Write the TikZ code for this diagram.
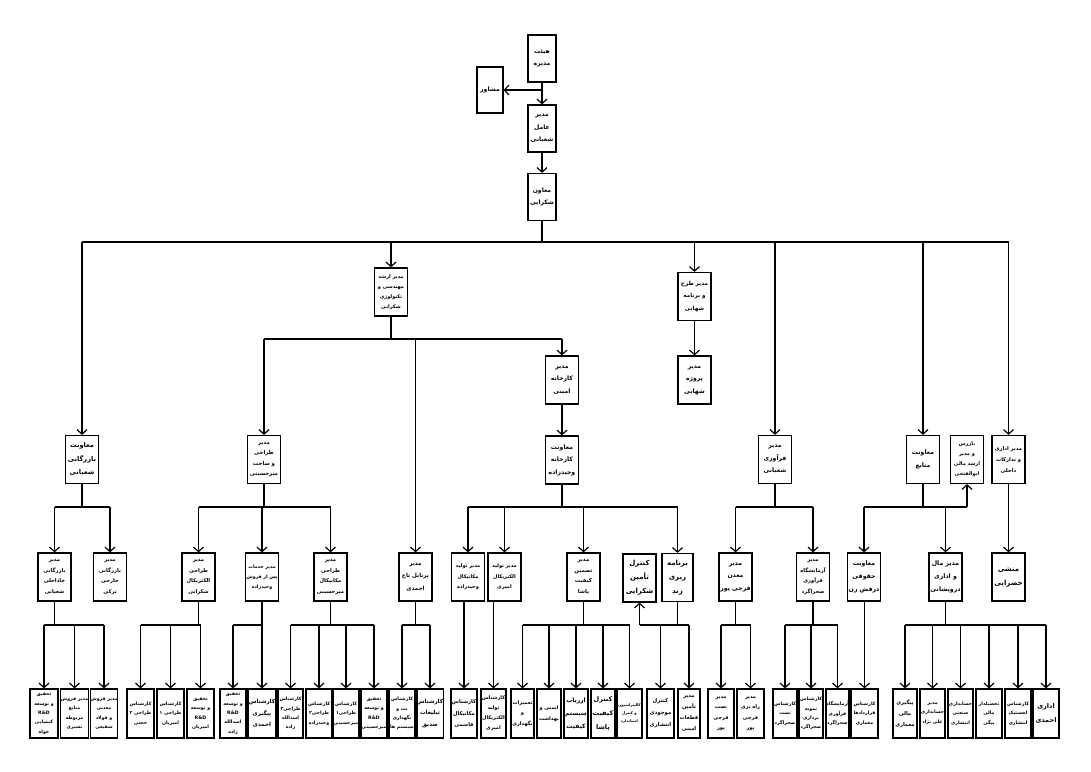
\documentclass[tikz,border=0pt]{standalone}
\usepackage{fontspec}
\newfontfamily\fafont[Script=Arabic]{DejaVu Sans}
\TeXXeTstate=1
\usetikzlibrary{arrows.meta, positioning}
\newcommand{\fa}[1]{\beginR#1\endR}

\begin{document}
\begin{tikzpicture}[
    x=1pt, y=-1pt,
    font=\fafont\bfseries\fontsize{6.1}{12.5}\selectfont,
    unitbox/.style={draw, line width=1.2pt, align=center, inner sep=0pt, minimum width=33, minimum height=48},
    staffbox/.style={draw, line width=1.2pt, align=center, inner sep=0pt, minimum width=26, minimum height=49, font=\fafont\bfseries\fontsize{4.7}{9.4}\selectfont},
    bigtext/.style={font=\fafont\bfseries\fontsize{7}{14}\selectfont},
    link/.style={line width=1.2pt},
    arrow/.style={-{Straight Barb[length=4.5pt, width=10pt]}, line width=1.2pt}
]
\useasboundingbox (0,0) rectangle (1091,771);

% === BOARD AND MANAGEMENT ===
\node[unitbox, minimum width=28, minimum height=47] (board) at (542, 58.5) {\fa{هیئت}\\\fa{مدیره}};
\node[unitbox, minimum width=26, minimum height=46] (advisor) at (490, 90) {\fa{مشاور}};
\node[unitbox, minimum width=28, minimum height=47] (ceo) at (542, 128.5) {\fa{مدیر}\\\fa{عامل}\\\fa{شعبانی}};
\node[unitbox, minimum width=28, minimum height=47] (deputy) at (542, 197) {\fa{معاون}\\\fa{شکرایی}};

% === SECOND LEVEL ===
\node[unitbox, font=\fafont\bfseries\fontsize{5}{10}\selectfont] (eng) at (391, 292) {\fa{مدیر ارشد}\\\fa{مهندسی و}\\\fa{تکنولوژی}\\\fa{شکرایی}};
\node[unitbox, font=\fafont\bfseries\fontsize{5.6}{12.5}\selectfont] (plan) at (694.5, 296.5) {\fa{مدیر طرح}\\\fa{و برنامه}\\\fa{شهابی}};
\node[unitbox] (factory) at (562, 380) {\fa{مدیر}\\\fa{کارخانه}\\\fa{امینی}};
\node[unitbox] (project) at (694.5, 380) {\fa{مدیر}\\\fa{پروژه}\\\fa{شهابی}};

% === DEPARTMENTS ===
\node[unitbox, font=\fafont\bfseries\fontsize{6.6}{13.5}\selectfont] (comm) at (82, 459.5) {\fa{معاونت}\\\fa{بازرگانی}\\\fa{شعبانی}};
\node[unitbox, font=\fafont\bfseries\fontsize{5.4}{10.5}\selectfont] (design) at (264, 459.5) {\fa{مدیر}\\\fa{طراحی}\\\fa{و ساخت}\\\fa{میرحسینی}};
\node[unitbox] (factdep) at (562, 460) {\fa{معاونت}\\\fa{کارخانه}\\\fa{وحیدزاده}};
\node[unitbox] (process) at (775, 459.5) {\fa{مدیر}\\\fa{فرآوری}\\\fa{شعبانی}};
\node[unitbox] (resources) at (923, 459.5) {\fa{معاونت}\\\fa{منابع}};
\node[unitbox, font=\fafont\bfseries\fontsize{5}{10}\selectfont] (inspector) at (967, 459.5) {\fa{بازرس}\\\fa{و مدیر}\\\fa{ارشد مالی}\\\fa{ابوالفتحی}};
\node[unitbox, font=\fafont\bfseries\fontsize{5.2}{11}\selectfont] (admin) at (1008.5, 459.5) {\fa{مدیر اداری}\\\fa{و تدارکات}\\\fa{داخلی}};

% === MANAGERS ===
\node[unitbox, font=\fafont\bfseries\fontsize{5.2}{10.5}\selectfont] (domestic) at (54.5, 577) {\fa{مدیر}\\\fa{بازرگانی}\\\fa{خاداخلی}\\\fa{شعبانی}};
\node[unitbox, font=\fafont\bfseries\fontsize{5.2}{10.5}\selectfont] (foreign) at (110, 577) {\fa{مدیر}\\\fa{بازرگانی}\\\fa{خارجی}\\\fa{ترکی}};
\node[unitbox, font=\fafont\bfseries\fontsize{5.2}{10.5}\selectfont] (eldesign) at (198.5, 577) {\fa{مدیر}\\\fa{طراحی}\\\fa{الکتریکال}\\\fa{شکرایی}};
\node[unitbox, font=\fafont\bfseries\fontsize{4.7}{10}\selectfont] (service) at (262, 577) {\fa{مدیر خدمات}\\\fa{پس از فروش}\\\fa{وحیدزاده}};
\node[unitbox, font=\fafont\bfseries\fontsize{5.2}{10.5}\selectfont] (mechdesign) at (330.5, 577) {\fa{مدیر}\\\fa{طراحی}\\\fa{مکانیکال}\\\fa{میرحسینی}};
\node[unitbox, font=\fafont\bfseries\fontsize{5.6}{12.5}\selectfont] (portable) at (415.5, 577) {\fa{مدیر}\\\fa{پرتابل تاج}\\\fa{احمدی}};
\node[unitbox, font=\fafont\bfseries\fontsize{5}{10.5}\selectfont] (mechprod) at (468, 577) {\fa{مدیر تولید}\\\fa{مکانیکال}\\\fa{وحیدزاده}};
\node[unitbox, font=\fafont\bfseries\fontsize{5}{10.5}\selectfont] (elprod) at (504.5, 577) {\fa{مدیر تولید}\\\fa{الکتریکال}\\\fa{امیری}};
\node[unitbox, font=\fafont\bfseries\fontsize{5.4}{10.5}\selectfont] (qa) at (583.5, 577) {\fa{مدیر}\\\fa{تضمین}\\\fa{کیفیت}\\\fa{پاشا}};
\node[unitbox, bigtext] (supply) at (639.5, 578) {\fa{کنترل}\\\fa{تأمین}\\\fa{شکرایی}};
\node[unitbox, bigtext, minimum width=31] (planning) at (677.5, 577.5) {\fa{برنامه}\\\fa{ریزی}\\\fa{زند}};
\node[unitbox] (mine) at (735.5, 577) {\fa{مدیر}\\\fa{معدن}\\\fa{فرجی پور}};
\node[unitbox, font=\fafont\bfseries\fontsize{5.2}{10.5}\selectfont] (lab) at (813, 577) {\fa{مدیر}\\\fa{آزمایشگاه}\\\fa{فرآوری}\\\fa{صحراگرد}};
\node[unitbox, font=\fafont\bfseries\fontsize{6.2}{13}\selectfont] (legal) at (864, 577) {\fa{معاونت}\\\fa{حقوقی}\\\fa{درفش زن}};
\node[unitbox, font=\fafont\bfseries\fontsize{6.2}{13}\selectfont] (finance) at (945.5, 577) {\fa{مدیر مال}\\\fa{و اداری}\\\fa{درویشانی}};
\node[unitbox, bigtext] (secretary) at (1008.5, 577) {\fa{منشی}\\\fa{خضرایی}};

% === STAFF ===
\node[staffbox, minimum width=28] (rd1) at (44, 713.5) {\fa{تحقیق}\\\fa{و توسعه}\\R\&D\\\fa{کیمیایی}\\\fa{خواه}};
\node[staffbox, minimum width=27] (sales1) at (74.5, 713.5) {\fa{مدیر فروش}\\\fa{منابع}\\\fa{مربوطه}\\\fa{بشیری}};
\node[staffbox] (sales2) at (104, 713.5) {\fa{مدیر فروش}\\\fa{معدنی}\\\fa{و فولاد}\\\fa{شفیعی}};
\node[staffbox, minimum width=27] (ds2) at (140.5, 713.5) {\fa{کارشناس}\\\fa{طراحی ۲}\\\fa{حجتی}};
\node[staffbox, minimum width=27] (ds1) at (170.5, 713.5) {\fa{کارشناس}\\\fa{طراحی ۱}\\\fa{امیریان}};
\node[staffbox, minimum width=27] (rd2) at (200.5, 713.5) {\fa{تحقیق}\\\fa{و توسعه}\\R\&D\\\fa{امیریان}};
\node[staffbox] (rd3) at (233, 713.5) {\fa{تحقیق}\\\fa{و توسعه}\\R\&D\\\fa{اسدالله}\\\fa{زاده}};
\node[staffbox, minimum width=28, font=\fafont\bfseries\fontsize{5.6}{11.5}\selectfont] (follow) at (262, 713.5) {\fa{کارشناس}\\\fa{پیگیری}\\\fa{احمدی}};
\node[staffbox, minimum width=25] (md3) at (290.5, 713.5) {\fa{کارشناس}\\\fa{طراحی۳}\\\fa{اسدالله}\\\fa{زاده}};
\node[staffbox] (md2) at (319, 713.5) {\fa{کارشناس}\\\fa{طراحی۲}\\\fa{وحیدزاده}};
\node[staffbox] (md1) at (346, 713.5) {\fa{کارشناس}\\\fa{طراحی۱}\\\fa{میرحسینی}};
\node[staffbox] (rd4) at (374, 713.5) {\fa{تحقیق}\\\fa{و توسعه}\\R\&D\\\fa{میرحسینی}};
\node[staffbox] (maint) at (402, 713.5) {\fa{کارشناس}\\\fa{نت و}\\\fa{نگهداری}\\\fa{سیستم ها}};
\node[staffbox, font=\fafont\bfseries\fontsize{5.6}{11.5}\selectfont] (adv) at (430, 713.5) {\fa{کارشناس}\\\fa{تبلیغات}\\\fa{صدیق}};
\node[staffbox, font=\fafont\bfseries\fontsize{5.2}{11.5}\selectfont] (mech) at (464, 713.5) {\fa{کارشناس}\\\fa{مکانیکال}\\\fa{قاسمی}};
\node[staffbox, minimum width=25, font=\fafont\bfseries\fontsize{5}{10}\selectfont] (elec) at (493.5, 713.5) {\fa{کارشناس}\\\fa{تولید}\\\fa{الکتریکال}\\\fa{امیری}};
\node[staffbox, minimum width=23, font=\fafont\bfseries\fontsize{5}{10.5}\selectfont] (repair) at (522.5, 713.5) {\fa{تعمیرات}\\\fa{و}\\\fa{نگهداری}};
\node[staffbox, minimum width=24, font=\fafont\bfseries\fontsize{5}{11}\selectfont] (safety) at (549, 713.5) {\fa{ایمنی و}\\\fa{بهداشت}};
\node[staffbox, minimum width=24, font=\fafont\bfseries\fontsize{6}{13}\selectfont] (audit) at (576, 713.5) {\fa{ارزیاب}\\\fa{سیستم}\\\fa{کیفیت}};
\node[staffbox, minimum width=24, font=\fafont\bfseries\fontsize{6.5}{14}\selectfont] (qc) at (603, 713.5) {\fa{کنترل}\\\fa{کیفیت}\\\fa{پاشا}};
\node[staffbox, minimum width=25, font=\fafont\bfseries\fontsize{3.8}{8}\selectfont] (calib) at (629.5, 713.5) {\fa{کالیبراسیون}\\\fa{و کنترل}\\\fa{استاندارد}};
\node[staffbox, minimum width=27, font=\fafont\bfseries\fontsize{5.4}{12}\selectfont] (stock) at (660.5, 713.5) {\fa{کنترل}\\\fa{موجودی}\\\fa{انتشاری}};
\node[staffbox, minimum width=22, font=\fafont\bfseries\fontsize{5.2}{11}\selectfont] (parts) at (689, 713.5) {\fa{مدیر}\\\fa{تأمین}\\\fa{قطعات}\\\fa{امینی}};
\node[staffbox, font=\fafont\bfseries\fontsize{5}{10.5}\selectfont] (install) at (721, 713.5) {\fa{مدیر}\\\fa{نصب}\\\fa{فرجی}\\\fa{پور}};
\node[staffbox, minimum width=27, font=\fafont\bfseries\fontsize{5}{10.5}\selectfont] (operate) at (750.5, 713.5) {\fa{مدیر}\\\fa{راه بری}\\\fa{فرجی}\\\fa{پور}};
\node[staffbox, minimum width=24] (test) at (785, 713.5) {\fa{کارشناس}\\\fa{تست}\\\fa{صحراگرد}};
\node[staffbox, minimum width=24] (sample) at (811, 713.5) {\fa{کارشناس}\\\fa{نمونه}\\\fa{برداری}\\\fa{صحراگرد}};
\node[staffbox, minimum width=23] (labx) at (837.5, 713.5) {\fa{آزمایشگاه}\\\fa{فرآوری}\\\fa{صحراگرد}};
\node[staffbox, minimum width=27] (contract) at (864.5, 713.5) {\fa{کارشناس}\\\fa{قراردادها}\\\fa{معماری}};
\node[staffbox, minimum width=24, font=\fafont\bfseries\fontsize{5.2}{11}\selectfont] (fin1) at (905, 713.5) {\fa{پیگیری}\\\fa{مالی}\\\fa{معماری}};
\node[staffbox, minimum width=25] (acct) at (932.5, 713.5) {\fa{مدیر}\\\fa{حسابداری}\\\fa{علی نژاد}};
\node[staffbox, minimum width=25] (indacct) at (960.5, 713.5) {\fa{حسابداری}\\\fa{صنعتی}\\\fa{انتشاری}};
\node[staffbox] (cashier) at (989, 713.5) {\fa{تحصیلدار}\\\fa{مالی}\\\fa{بیگی}};
\node[staffbox] (logist) at (1018, 713.5) {\fa{کارشناس}\\\fa{لجستیک}\\\fa{انتشاری}};
\node[staffbox, font=\fafont\bfseries\fontsize{6.5}{14}\selectfont] (office) at (1046, 713.5) {\fa{اداری}\\\fa{احمدی}};

% === BUS LINES ===
\coordinate (topbus) at (542, 242);
\coordinate (engbus) at (391, 339);
\coordinate (midbus) at (0, 507);
\coordinate (rowbus) at (0, 625);

% === TOP CONNECTORS ===
\draw[arrow] (board) -- (ceo);
\draw[arrow] (board.south |- advisor.east) -- (advisor.east);
\draw[arrow] (ceo) -- (deputy);
\draw[link] (deputy) -- (topbus);
\draw[link] (comm.north |- topbus) -- (admin.north |- topbus);
\foreach \n in {comm, eng, plan, process, resources, admin} {
    \draw[arrow] (\n.north |- topbus) -- (\n.north);
}
\draw[link] (eng) -- (engbus);
\draw[link] (design.north |- engbus) -- (factory.north |- engbus);
\foreach \n in {design, portable, factory} {
    \draw[arrow] (\n.north |- engbus) -- (\n.north);
}
\draw[arrow] (factory) -- (factdep);
\draw[arrow] (plan) -- (project);
\draw[arrow] (admin) -- (secretary);

% === DEPARTMENT CONNECTORS ===
\foreach \p/\a/\b in {comm/domestic/foreign, design/eldesign/mechdesign, factdep/mechprod/planning, process/mine/lab, resources/legal/inspector} {
    \draw[link] (\p.south) -- (\p.south |- midbus);
    \draw[link] (\a.north |- midbus) -- (\b.north |- midbus);
}
\foreach \n in {domestic, foreign, eldesign, service, mechdesign, mechprod, elprod, qa, planning, mine, lab, legal, finance} {
    \draw[arrow] (\n.north |- midbus) -- (\n.north);
}
\draw[arrow] (inspector.south |- midbus) -- (inspector.south);

% === STAFF CONNECTORS ===
\foreach \p/\a/\b in {domestic/rd1/sales2, eldesign/ds2/rd2, service/rd3/follow, mechdesign/md3/rd4, portable/maint/adv, qa/repair/calib, planning/supply/parts, mine/install/operate, lab/test/labx, finance/fin1/office} {
    \draw[link] (\p.south) -- (\p.south |- rowbus);
    \draw[link] (\a.north |- rowbus) -- (\b.north |- rowbus);
}
\foreach \n in {rd1, sales1, sales2, ds2, ds1, rd2, rd3, follow, md3, md2, md1, rd4, maint, adv, repair, safety, audit, qc, calib, stock, parts, install, operate, test, sample, labx, fin1, acct, indacct, cashier, logist, office} {
    \draw[arrow] (\n.north |- rowbus) -- (\n.north);
}
\draw[arrow] (supply.south |- rowbus) -- (supply.south);
\foreach \p/\c in {mechprod/mech, elprod/elec, legal/contract} {
    \draw[arrow] (\p.south -| \c.north) -- (\c.north);
}

\end{tikzpicture}
\end{document}
